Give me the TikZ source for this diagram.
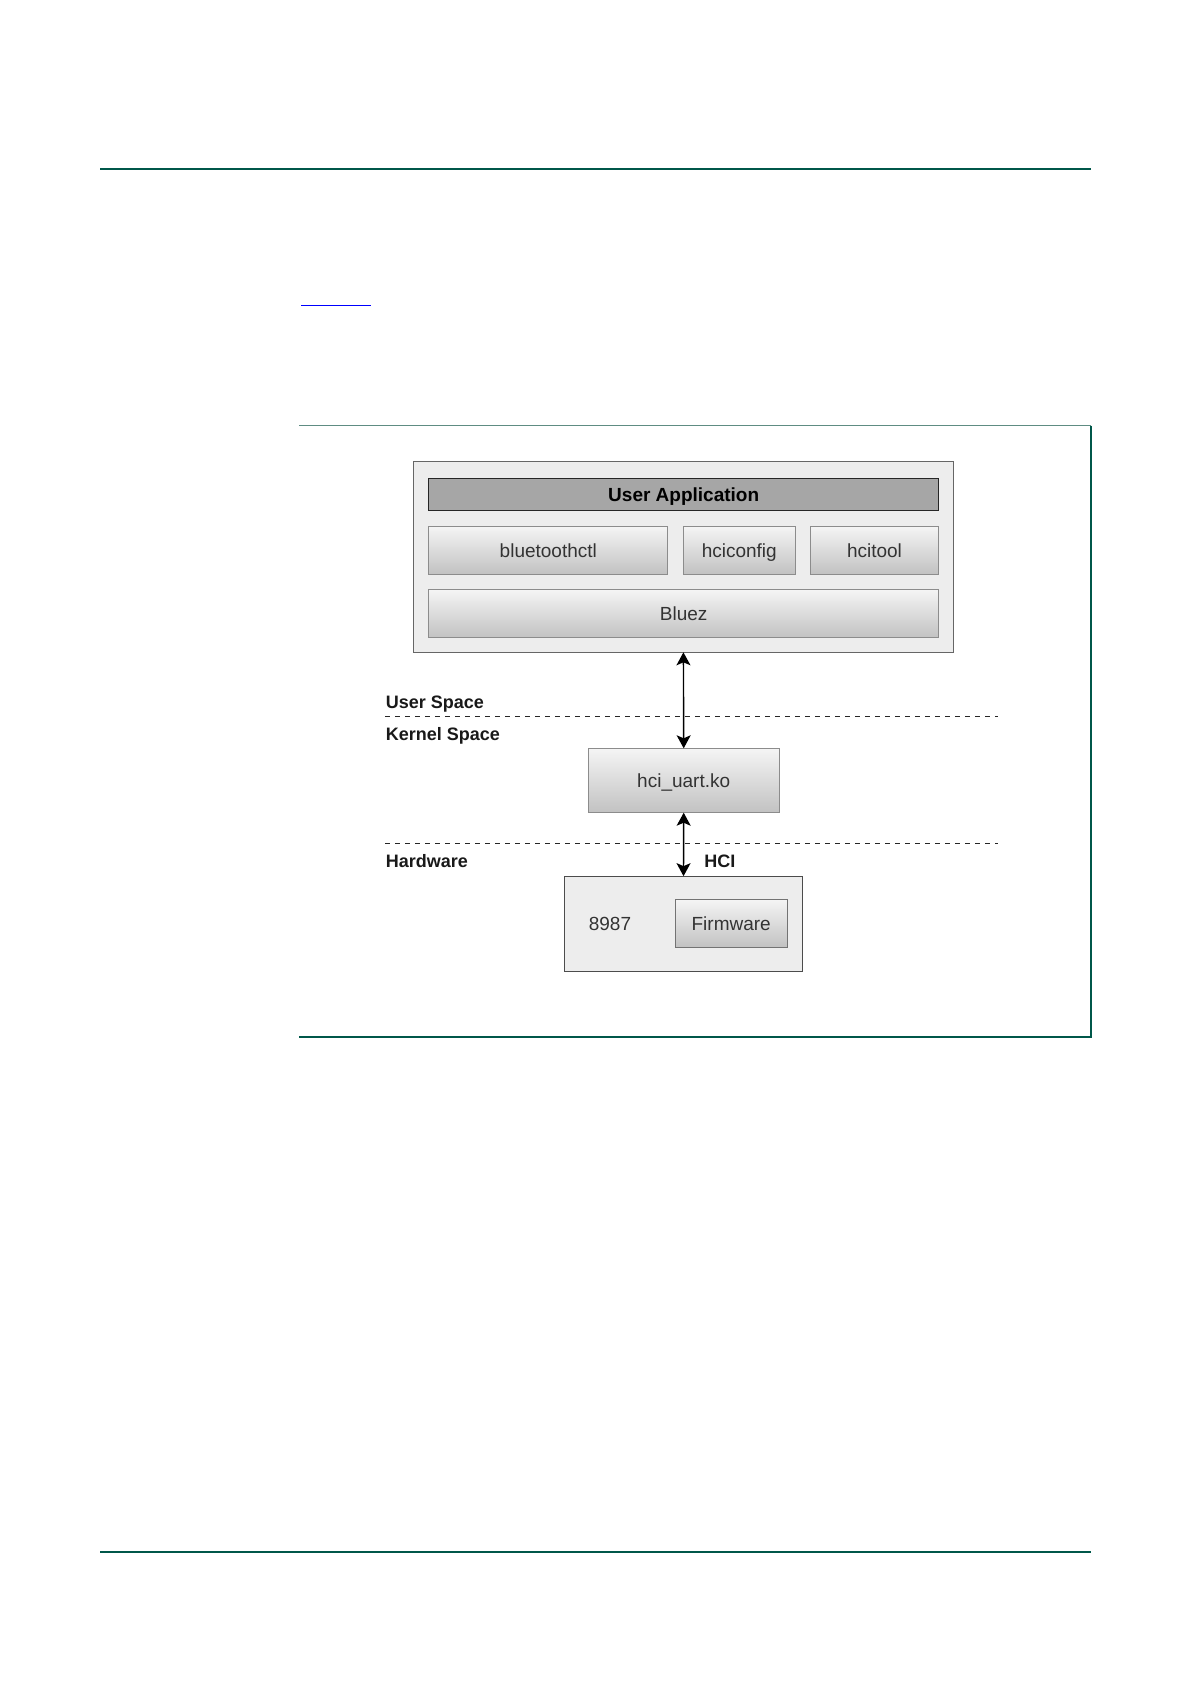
\documentclass[tikz,border=0pt]{standalone}
\usepackage{fontspec}
\setmainfont{Liberation Sans}
\usepackage{xcolor}
\usetikzlibrary{arrows.meta, positioning}
\definecolor{pagegreen}{HTML}{00574A}
\definecolor{framegreen}{HTML}{5E8C82}
\definecolor{boxline}{HTML}{8C8C8C}
\tikzstyle{container} = [rectangle, draw=black!60, fill=black!7, outer sep=0pt, inner sep=0pt]
\tikzstyle{block} = [rectangle, draw=boxline, top color=black!4, bottom color=black!24, text=black!80, outer sep=0pt, inner sep=0pt, text height=7pt, text depth=0pt, font=\fontsize{9.5}{11}\selectfont]
\tikzstyle{appbar} = [rectangle, draw=black!85, fill=black!35, outer sep=0pt, inner sep=0pt, text height=7pt, text depth=0pt, font=\bfseries\fontsize{9.5}{11}\selectfont]
\tikzstyle{spacelabel} = [anchor=base west, inner sep=0pt, text=black!90, font=\bfseries\fontsize{9}{11}\selectfont]
\tikzstyle{divider} = [black!85, line width=0.6pt, dash pattern=on 2.5pt off 2.5pt]
\tikzstyle{arrow} = [line width=0.7pt, {Stealth[length=6.5pt, width=7pt, inset=1.5pt]}-{Stealth[length=6.5pt, width=7pt, inset=1.5pt]}]

\begin{document}
\begin{tikzpicture}[x=0.5pt, y=-0.5pt]
\useasboundingbox (0,0) rectangle (1192,1685);

% page rules and figure frame
\draw[pagegreen, line width=1pt] (100,169) -- (1091,169);
\draw[pagegreen, line width=1pt] (100,1552) -- (1091,1552);
\draw[blue, line width=0.5pt] (301,305) -- (371,305);
\draw[framegreen, line width=0.8pt] (299,425.6) -- (1091,425.6);
\draw[pagegreen, line width=0.8pt] (1091,425.6) -- (1091,1037) -- (299,1037);

% user space stack
\node (user) [container, minimum width=270pt, minimum height=95.3pt] at (683.4,557) {};
\node (app) [appbar, minimum width=254.9pt, minimum height=15.85pt] at (683.7,494.2) {User Application};
\node (btctl) [block, minimum width=119.5pt, minimum height=24pt] at (548.3,550) {bluetoothctl};
\node (hciconfig) [block, minimum width=55.85pt, minimum height=24pt, right=7.8pt of btctl] {hciconfig};
\node (hcitool) [block, minimum width=64.15pt, minimum height=24pt, right=7.6pt of hciconfig] {hcitool};
\node (bluez) [block, minimum width=254.9pt, minimum height=24.2pt] at (683.7,613.5) {Bluez};

% kernel and hardware
\node (hci) [block, minimum width=95.3pt, minimum height=32.2pt] at (683.7,780.5) {hci\_uart.ko};
\node (chip) [container, draw=black!70, minimum width=119.2pt, minimum height=47.85pt] at (683.5,924) {};
\node (chipname) [anchor=west, inner sep=0pt, text=black!80, font=\fontsize{9.5}{11}\selectfont] at (588.4,924) {8987};
\node (fw) [block, draw=black!55, minimum width=55.9pt, minimum height=24pt] at (731.2,923.3) {Firmware};

% space labels
\node (us) [spacelabel] at (385.5,708.3) {User Space};
\node (ks) [spacelabel] at (385.5,740) {Kernel Space};
\node (hw) [spacelabel] at (385.5,867.3) {Hardware};
\node (hcilabel) [spacelabel] at (703.9,867.3) {HCI};

\coordinate (d1a) at (385,716.7);
\coordinate (d1b) at (998,716.7);
\coordinate (d2a) at (385,843.3);
\coordinate (d2b) at (998,843.3);
\draw [divider] (d1a) -- (d1b);
\draw [divider] (d2a) -- (d2b);

\draw [arrow] (user.south) -- (hci.north);
\draw [arrow] (hci.south) -- (chip.north);

\end{tikzpicture}
\end{document}
